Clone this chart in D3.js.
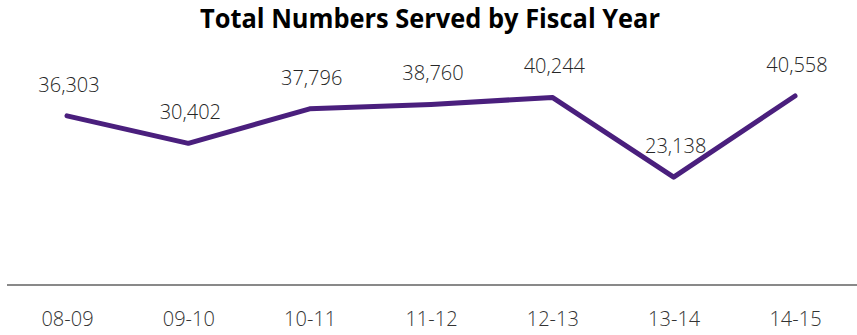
<!DOCTYPE html>
<html><head><meta charset="utf-8">
<script src="https://cdn.jsdelivr.net/npm/d3@7"></script>
<style>body{margin:0;background:#fff}svg{display:block}</style>
</head><body>
<script>
const categories = ["08-09","09-10","10-11","11-12","12-13","13-14","14-15"];
const values = [36303, 30402, 37796, 38760, 40244, 23138, 40558];
const title = "Total Numbers Served by Fiscal Year";

const W = 857, H = 335;
const svg = d3.select("body").append("svg").attr("width", W).attr("height", H);

const x = d3.scalePoint().domain(categories).range([67, 795]);
const y = d3.scaleLinear().domain([0, 45000]).range([285, 75.3]);

svg.append("text").attr("x", 430).attr("y", 28).attr("text-anchor", "middle")
  .attr("font-family", "Open Sans").attr("font-weight", 700).attr("font-size", 26.5)
  .attr("fill", "#000").attr("textLength", 460).attr("lengthAdjust", "spacingAndGlyphs")
  .text(title);

// axis
const axis = d3.axisBottom(x).tickSize(0).tickPadding(0);
const gx = svg.append("g").attr("transform", "translate(0,285)").call(axis);
gx.select(".domain").remove();
svg.append("line").attr("x1", 7).attr("x2", 857).attr("y1", 285).attr("y2", 285)
  .attr("stroke", "#898989").attr("stroke-width", 2);
gx.selectAll(".tick text").attr("dy", null).attr("y", 41)
  .attr("font-family", "Open Sans").attr("font-weight", 300).attr("font-size", 20)
  .attr("fill", "#333");

const line = d3.line().x((d, i) => x(categories[i])).y(d => y(d));
svg.append("path").datum(values).attr("d", line).attr("fill", "none")
  .attr("stroke", "#4a1f7d").attr("stroke-width", 5)
  .attr("stroke-linecap", "round").attr("stroke-linejoin", "round");

svg.append("g").selectAll("text").data(values).join("text")
  .attr("x", (d, i) => x(categories[i]) + 2)
  .attr("y", d => y(d) - 24)
  .attr("text-anchor", "middle")
  .attr("font-family", "Open Sans").attr("font-weight", 300).attr("font-size", 20)
  .attr("fill", "#262626")
  .text(d => d3.format(",")(d));
</script>
</body></html>
